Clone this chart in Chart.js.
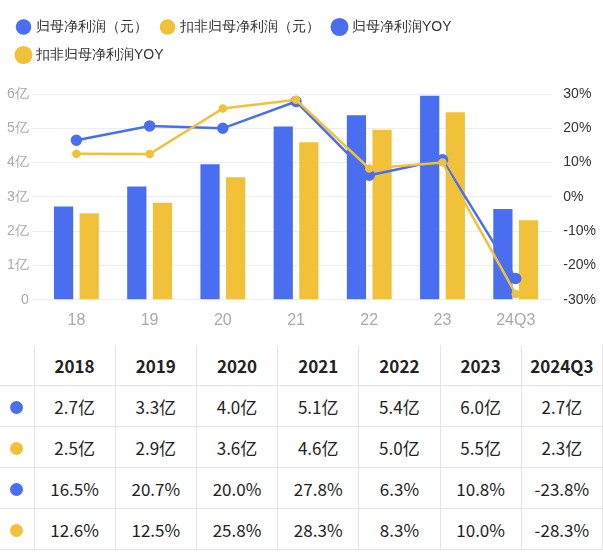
<!DOCTYPE html>
<html>
<head>
<meta charset="utf-8">
<script src="https://cdn.jsdelivr.net/npm/chart.js@4"></script>
<style>
  body { margin: 0; background: #fff; font-family: "Noto Sans CJK SC", "Noto Sans", sans-serif; }
  #box { width: 603px; height: 345px; }
  table { border-collapse: collapse; width: 603px; font-size: 17px; color: #222; table-layout: fixed; }
  td, th { border: 1px solid #e4e4e4; text-align: center; height: 40px; padding: 0; }
  th { font-weight: bold; }
  col.c0 { width: 34px; }
  tr td:first-child, tr th:first-child { border-left: none; }
  tr:first-child th { border-top: none; }
  .dot { display: inline-block; width: 13px; height: 13px; border-radius: 50%; }
</style>
</head>
<body>
<div id="box"><canvas id="grafico"></canvas></div>
<table id="tabela"></table>
<script>
const categorias = ["18", "19", "20", "21", "22", "23", "24Q3"];
const anos = ["2018", "2019", "2020", "2021", "2022", "2023", "2024Q3"];
const lucro = [2.72, 3.3, 3.95, 5.05, 5.38, 5.95, 2.65];
const lucroDeduzido = [2.52, 2.83, 3.57, 4.59, 4.96, 5.47, 2.32];
const lucroYoy = [16.5, 20.7, 20.0, 27.8, 6.3, 10.8, -23.8];
const deduzidoYoy = [12.6, 12.5, 25.8, 28.3, 8.3, 10.0, -28.3];
const lucroTxt = ["2.7亿", "3.3亿", "4.0亿", "5.1亿", "5.4亿", "6.0亿", "2.7亿"];
const deduzidoTxt = ["2.5亿", "2.9亿", "3.6亿", "4.6亿", "5.0亿", "5.5亿", "2.3亿"];

const azul = "#4a6ef0";
const amarelo = "#f2c13a";

// espaco extra abaixo da legenda
const espacoLegenda = {
    id: "espacoLegenda",
    beforeInit(chart) {
        const fit = chart.legend.fit;
        chart.legend.fit = function () {
            fit.bind(chart.legend)();
            this.height += 22;
        };
    }
};

new Chart(document.getElementById("grafico"), {
    type: "bar",
    plugins: [espacoLegenda],
    data: {
        labels: categorias,
        datasets: [
            { label: "归母净利润（元）", data: lucro, backgroundColor: azul, yAxisID: "y", order: 2,
              barPercentage: 0.75, categoryPercentage: 0.7 },
            { label: "扣非归母净利润（元）", data: lucroDeduzido, backgroundColor: amarelo, yAxisID: "y", order: 2,
              barPercentage: 0.75, categoryPercentage: 0.7 },
            { label: "归母净利润YOY", type: "line", data: lucroYoy, borderColor: azul, backgroundColor: azul,
              yAxisID: "y1", order: 1, borderWidth: 2.5, pointRadius: 4.5 },
            { label: "扣非归母净利润YOY", type: "line", data: deduzidoYoy, borderColor: amarelo, backgroundColor: amarelo,
              yAxisID: "y1", order: 0, borderWidth: 2.5, pointRadius: 3 }
        ]
    },
    options: {
        responsive: true,
        maintainAspectRatio: false,
        animation: false,
        layout: { padding: { left: 4, right: 4, top: 6, bottom: 12 } },
        plugins: {
            legend: {
                position: "top",
                align: "start",
                labels: {
                    usePointStyle: true, pointStyle: "circle", boxWidth: 11, boxHeight: 11,
                    color: "#333", font: { size: 14 }, padding: 14,
                    sort: (a, b) => a.datasetIndex - b.datasetIndex
                }
            },
            tooltip: { enabled: false }
        },
        scales: {
            x: {
                grid: { display: false },
                border: { display: false },
                ticks: { color: "#aaa", font: { size: 16 } }
            },
            y: {
                min: 0, max: 6,
                ticks: { stepSize: 1, color: "#aaa", font: { size: 14 },
                         callback: v => v === 0 ? "0" : v + "亿" },
                grid: { color: "#eeeeee" },
                border: { display: false }
            },
            y1: {
                position: "right",
                min: -30, max: 30,
                ticks: { stepSize: 10, color: "#333", font: { size: 14 }, callback: v => v + "%" },
                grid: { display: false },
                border: { display: false }
            }
        }
    }
});

function linha(cor, valores) {
    let html = `<tr><td><span class="dot" style="background:${cor}"></span></td>`;
    for (let i = 0; i < valores.length; i++) html += `<td>${valores[i]}</td>`;
    return html + "</tr>";
}

let html = '<colgroup><col class="c0">';
for (let i = 0; i < anos.length; i++) html += "<col>";
html += "</colgroup><tr><th></th>";
for (let i = 0; i < anos.length; i++) html += `<th>${anos[i]}</th>`;
html += "</tr>";
html += linha(azul, lucroTxt);
html += linha(amarelo, deduzidoTxt);
html += linha(azul, lucroYoy.map(v => v.toFixed(1) + "%"));
html += linha(amarelo, deduzidoYoy.map(v => v.toFixed(1) + "%"));
document.getElementById("tabela").innerHTML = html;
</script>
</body>
</html>
